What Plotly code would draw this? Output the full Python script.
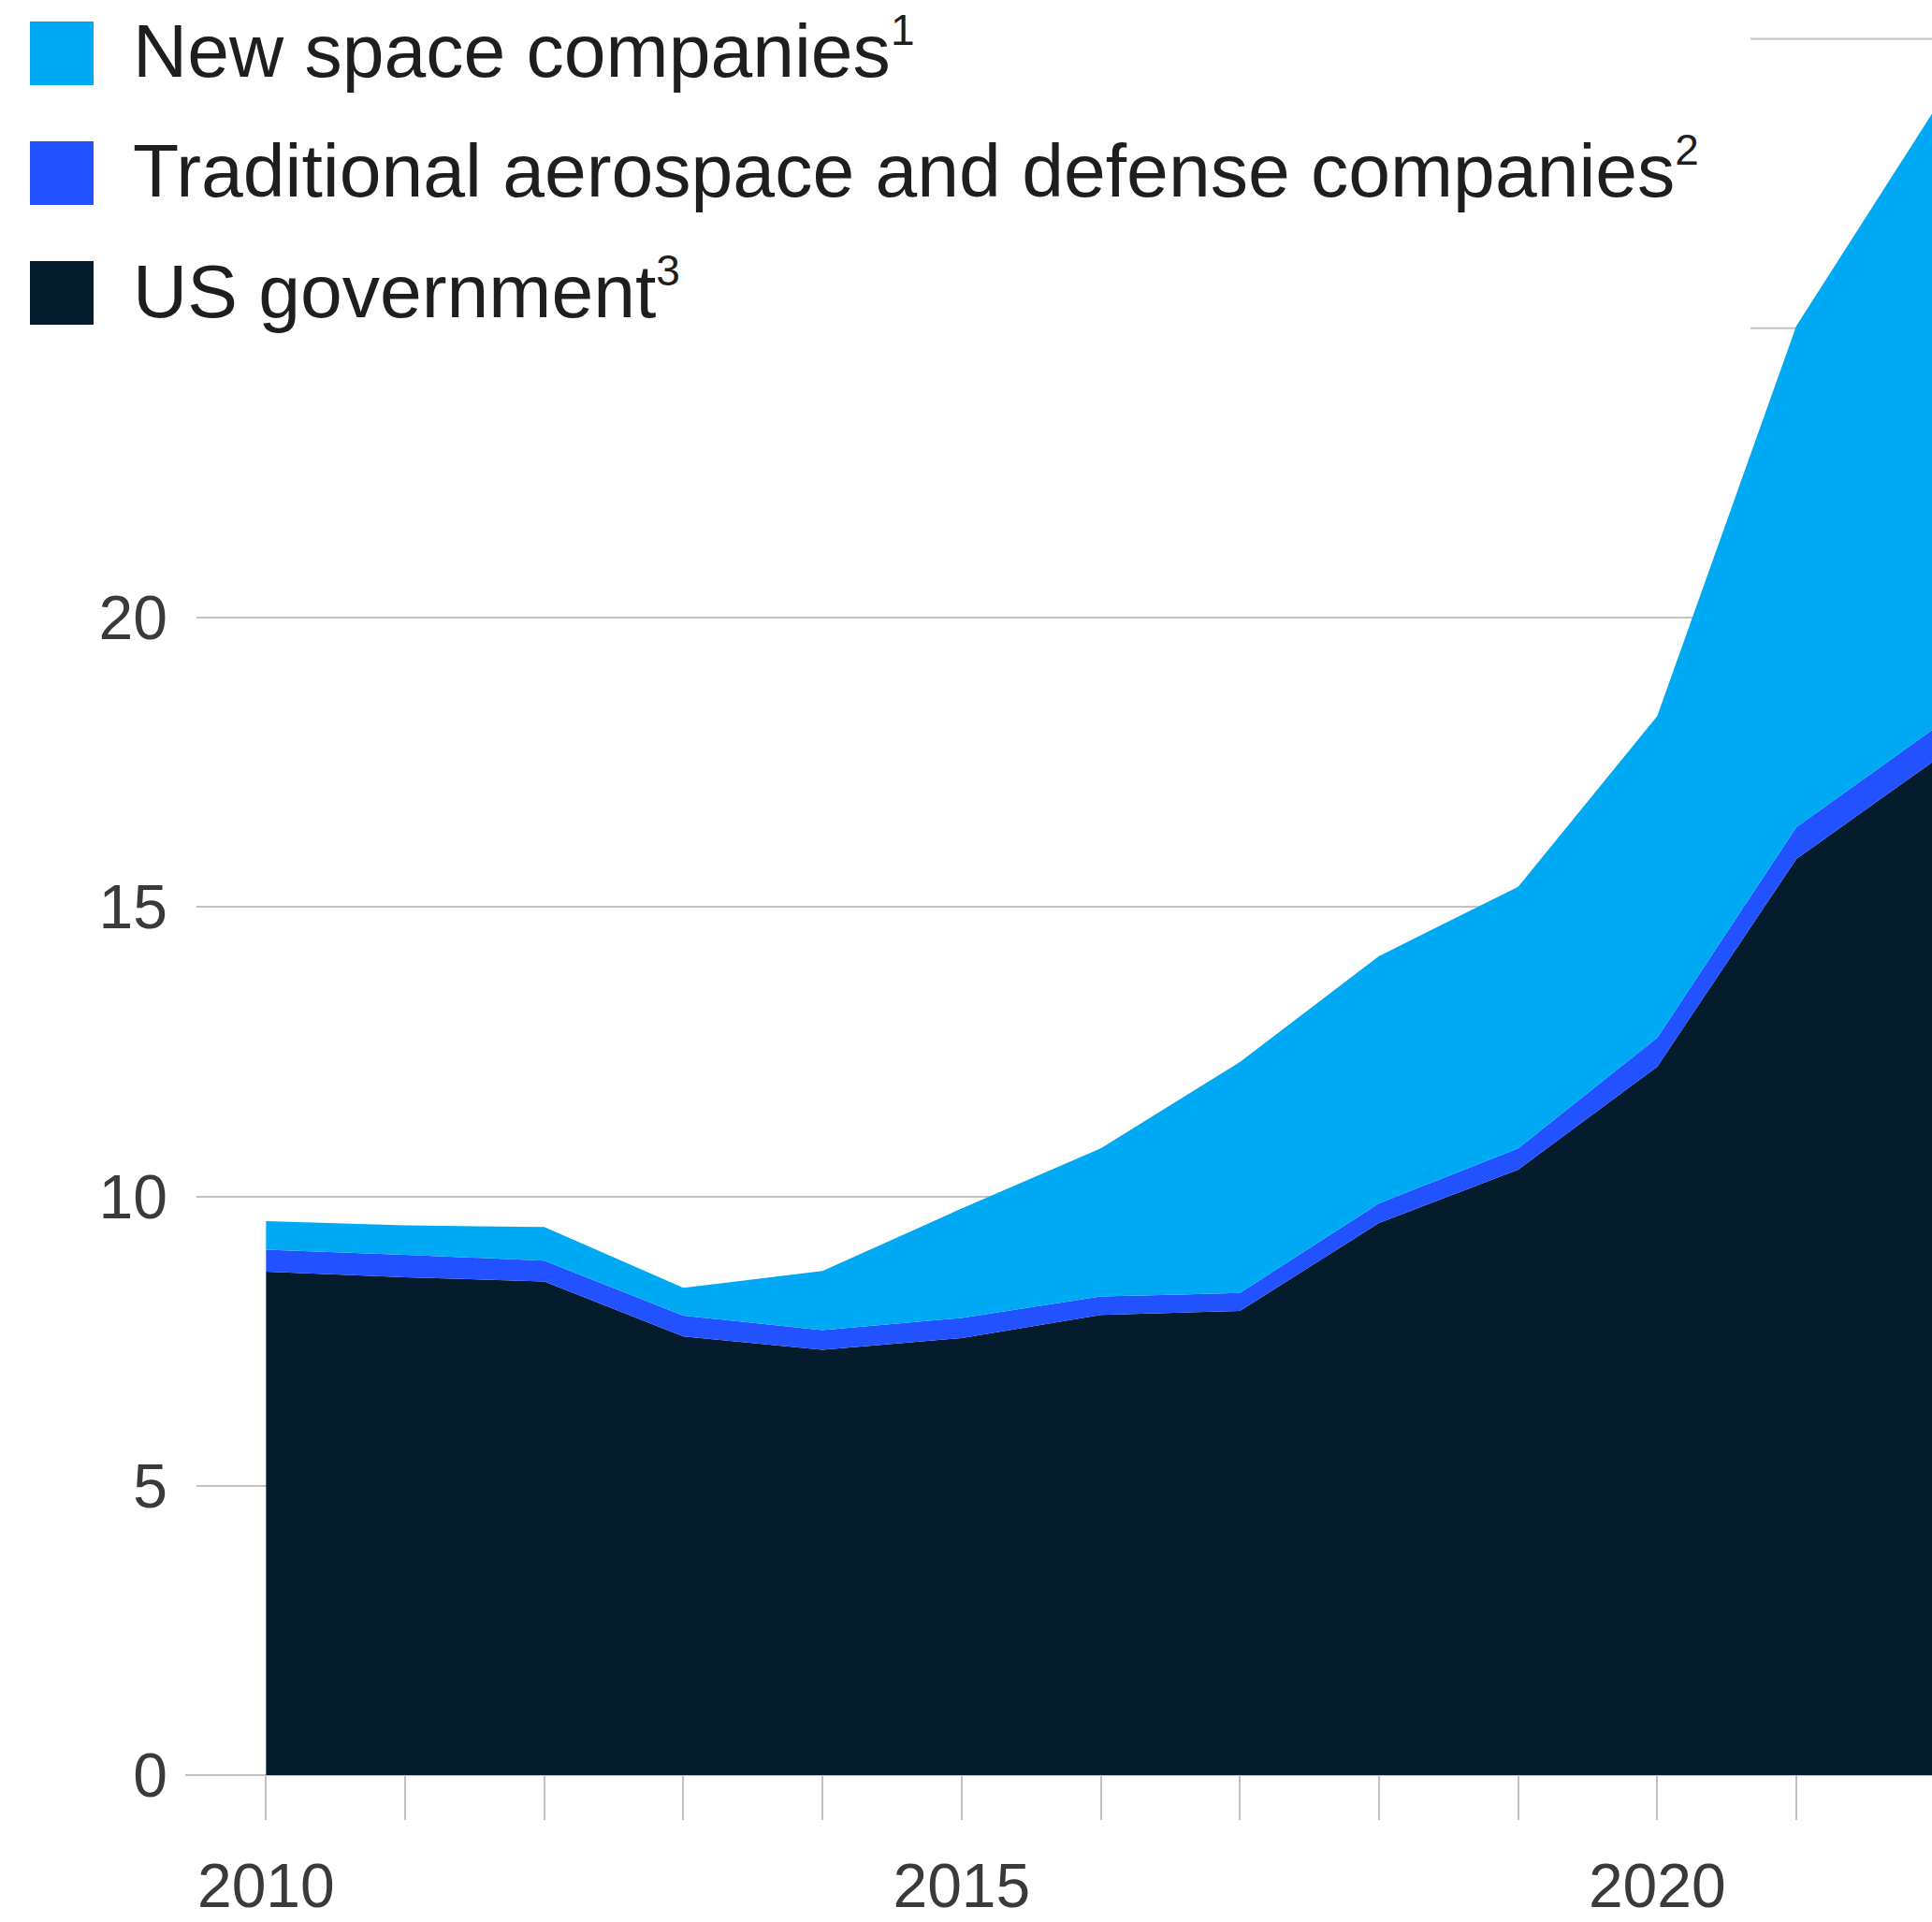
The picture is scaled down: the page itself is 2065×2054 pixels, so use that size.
import plotly.graph_objects as go

# Annual spending, $ billion, stacked by funding source
years = [2010, 2011, 2012, 2013, 2014, 2015, 2016, 2017, 2018, 2019, 2020, 2021, 2022]
us_government = [8.70, 8.60, 8.53, 7.58, 7.35, 7.55, 7.95, 8.02, 9.54, 10.46, 12.24, 15.83, 17.54]
traditional_ad = [0.38, 0.39, 0.36, 0.36, 0.34, 0.35, 0.32, 0.31, 0.34, 0.37, 0.50, 0.55, 0.56]
new_space = [0.49, 0.51, 0.58, 0.48, 1.02, 1.89, 2.56, 3.99, 4.27, 4.52, 5.56, 8.66, 10.70]

series_labels = [
    "New space companies",
    "Traditional aerospace and defense companies",
    "US government",
]
series_notes = ["1", "2", "3"]
series_colors = ["#00A9F4", "#2251FF", "#051C2C"]

y_ticks = [0, 5, 10, 15, 20]
y_extra_grid = [25, 30]
x_ticks = [2010, 2015, 2020]

W, H = 2065, 2054
ML, MR, MT, MB = 210, 0, 23, 157
PW, PH = W - ML - MR, H - MT - MB

FONT = "Liberation Sans, Arial, Helvetica, sans-serif"
GRID = "#c2c2c2"

fig = go.Figure()
for label, vals, color in [
    (series_labels[2], us_government, series_colors[2]),
    (series_labels[1], traditional_ad, series_colors[1]),
    (series_labels[0], new_space, series_colors[0]),
]:
    fig.add_trace(go.Scatter(
        x=years, y=vals, name=label, mode="none",
        stackgroup="spend", fillcolor=color,
        line=dict(width=0), showlegend=False,
    ))


def px_x(p):
    return (p - ML) / PW


def px_y(p):
    return (H - MB - p) / PH


shapes = []
# baseline extends a little past the plot's left edge
shapes.append(dict(type="line", xref="paper", yref="paper",
                   x0=px_x(198), x1=1, y0=0, y1=0,
                   line=dict(color=GRID, width=2), layer="below"))
# upper gridlines only show to the right of the key
for v in y_extra_grid:
    shapes.append(dict(type="line", xref="x", yref="y",
                       x0=2020.67, x1=2023, y0=v, y1=v,
                       line=dict(color=GRID, width=2), layer="below"))

# key: colour squares with labels and footnote markers
annotations = []
key_centers = [57, 185, 313]
sq = 68
for label, note, color, cy in zip(series_labels, series_notes, series_colors, key_centers):
    shapes.append(dict(type="rect", xref="paper", yref="paper",
                       x0=px_x(32), x1=px_x(32 + sq),
                       y0=px_y(cy + sq / 2), y1=px_y(cy - sq / 2),
                       fillcolor=color, line=dict(width=0)))
    annotations.append(dict(xref="paper", yref="paper",
                            x=px_x(140), y=px_y(cy - 4),
                            xanchor="left", yanchor="middle",
                            text=f"{label}<sup><span style='font-size:46px'>{note}</span></sup>",
                            showarrow=False,
                            font=dict(family=FONT, size=80.5, color="#1e1e1e")))

fig.update_layout(
    width=W, height=H,
    margin=dict(l=ML, r=MR, t=MT, b=MB, pad=0),
    paper_bgcolor="white", plot_bgcolor="white",
    shapes=shapes, annotations=annotations,
    showlegend=False,
    xaxis=dict(
        range=[2009.5, 2021.975],
        tickvals=x_ticks,
        ticktext=[str(v) for v in x_ticks],
        ticks="outside", ticklen=47, tickwidth=2, tickcolor=GRID,
        minor=dict(dtick=1, tick0=2010, ticks="outside", ticklen=47,
                   tickwidth=2, tickcolor=GRID, showgrid=False),
        showgrid=False, zeroline=False, showline=False,
        ticklabelstandoff=14,
        tickfont=dict(family=FONT, size=66, color="#3a3a3a"),
    ),
    yaxis=dict(
        range=[0, 30.3],
        tickvals=y_ticks,
        ticktext=[str(v) for v in y_ticks],
        showgrid=True, gridcolor=GRID, gridwidth=2,
        zeroline=False, showline=False, ticks="",
        ticklabelstandoff=30,
        tickfont=dict(family=FONT, size=66, color="#3a3a3a"),
    ),
)

fig.write_html("out.html")
